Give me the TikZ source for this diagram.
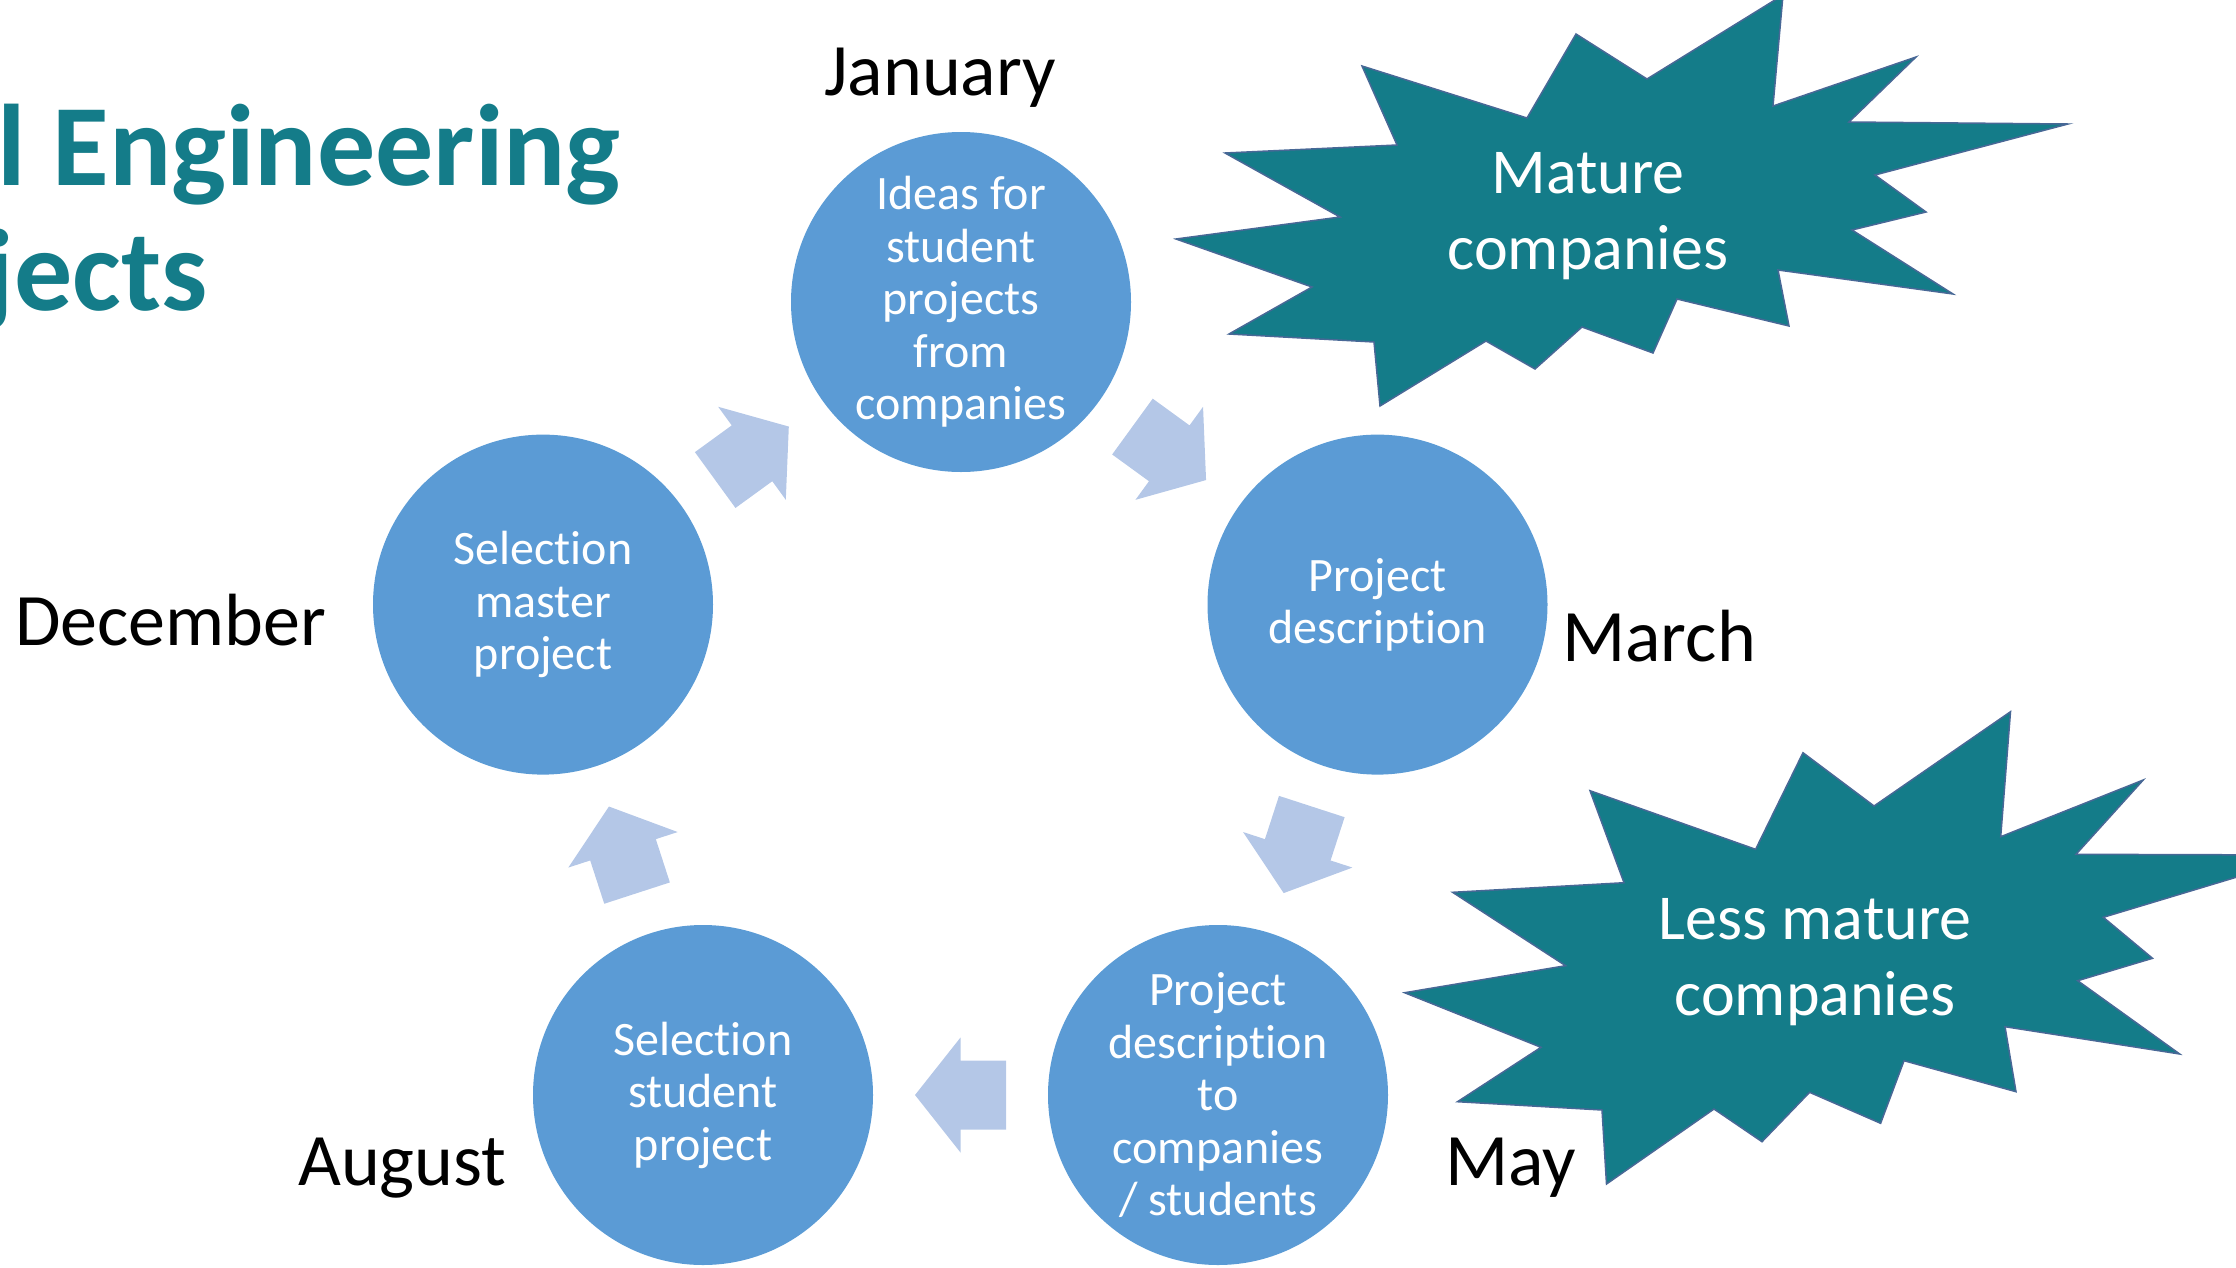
\documentclass[tikz,border=0pt]{standalone}
\usepackage{fontspec}
\setmainfont{Carlito}[Ligatures=NoCommon]
\usetikzlibrary{calc}
\definecolor{circblue}{RGB}{91,155,213}
\definecolor{arrowblue}{RGB}{180,199,231}
\definecolor{starteal}{RGB}{20,124,137}
\definecolor{staredge}{RGB}{72,104,150}
\newcommand\cycarrow[3]{%
  \fill[cyclearrow, shift={($(#1)!0.5!(#2)$)}, rotate=#3]
    (-45.5,-34.5) -- (0,-34.5) -- (0,-57.5) -- (45.5,0) -- (0,57.5) -- (0,34.5) -- (-45.5,34.5) -- cycle;}
\begin{document}
\begin{tikzpicture}[x=1pt,y=-1pt,
  phase/.style={circle, fill=circblue, minimum size=340pt, inner sep=0pt, text=white, align=center,
    font=\fontsize{48}{52.5}\selectfont},
  month/.style={anchor=base west, inner sep=0pt, font=\fontsize{74}{88}\selectfont},
  burst/.style={fill=starteal, draw=staredge, line width=1.5pt, line join=miter},
  bursttext/.style={text=white, align=center, inner sep=0pt, font=\fontsize{64}{76}\selectfont},
  cyclearrow/.style={fill=arrowblue},
  title/.style={anchor=base east, inner sep=0pt, text=starteal, font=\bfseries\fontsize{116}{125}\selectfont}
]
\useasboundingbox (0,0) rectangle (2236,1267);
\clip (0,0) rectangle (2236,1267);

% starbursts
\draw[burst] (1783,-5) -- (1773,106) -- (1916,57) -- (1849,122) -- (2068,124) -- (1875,175)
  -- (1926,212) -- (1852,230) -- (1953,294) -- (1778,270) -- (1789,326) -- (1677,299)
  -- (1653,353) -- (1582,327) -- (1535,369) -- (1486,341) -- (1380,406) -- (1374,342)
  -- (1229,334) -- (1312,287) -- (1176,239) -- (1340,217) -- (1225,153) -- (1397,145)
  -- (1362,66) -- (1527,118) -- (1576,34) -- (1647,79) -- cycle;
\node[bursttext] (mature) at (1588,216) {Mature\\companies};

\draw[burst] (2010.5,711.7) -- (2000.7,836.7) -- (2143.2,780) -- (2076,854.3) -- (2310,855)
  -- (2103.3,917.3) -- (2152.5,958.3) -- (2077.7,980.7) -- (2179.7,1054) -- (2005,1026.7)
  -- (2016,1091.7) -- (1904,1060.7) -- (1880.6,1123.3) -- (1809.6,1092.3) -- (1762,1141.7)
  -- (1714,1109) -- (1606.5,1184) -- (1602,1110) -- (1457.5,1101.7) -- (1541,1047.3)
  -- (1404.6,992.7) -- (1565.6,965.7) -- (1452.6,892.3) -- (1624,882.7) -- (1590,790.7)
  -- (1755.6,849.3) -- (1803,752.7) -- (1874,806) -- cycle;
\node[bursttext] (lessmature) at (1815,962) {Less mature\\companies};

% cycle phases
\node[phase] (jan) at (961,302) {Ideas for\\student\\projects\\from\\companies};
\node[phase] (mar) at (1377.5,604.6) {Project\\description};
\node[phase] (may) at (1218,1095) {Project\\description\\to\\companies\\/ students};
\node[phase] (aug) at (703,1095) {Selection\\student\\project};
\node[phase] (dec) at (543,604.6) {Selection\\master\\project};

% block arrows between phases
\cycarrow{dec}{jan}{36}
\cycarrow{jan}{mar}{-36}
\cycarrow{mar}{may}{-108}
\cycarrow{may}{aug}{180}
\cycarrow{aug}{dec}{108}

% month labels
\node[month] (lbljan) at (824,95) {January};
\node[month] (lblmar) at (1562,661) {March};
\node[month] (lbldec) at (15,645) {December};
\node[month] (lblaug) at (298,1185) {August};
\node[month] (lblmay) at (1445,1185) {May};

% title (cut off at the left edge, as in the original slide)
\node[title] (title1) at (621,185) {l Engineering};
\node[title] (title2) at (208,310) {jects};
\end{tikzpicture}
\end{document}
